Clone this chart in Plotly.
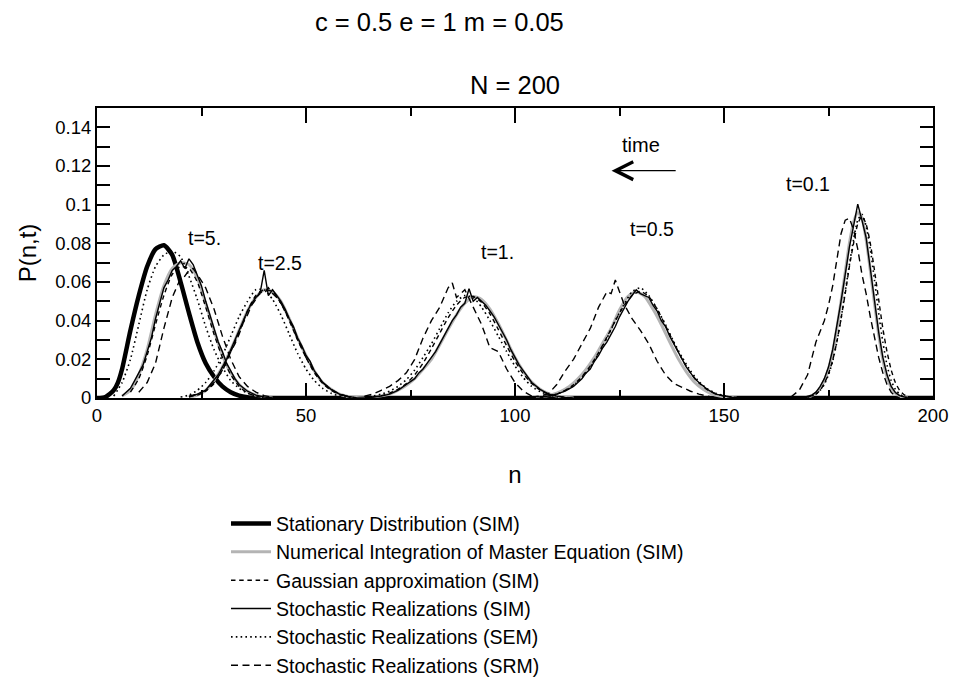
import plotly.graph_objects as go

# ---------------- data ----------------
# Stationary distribution (SIM)
stat_n = [0, 2, 4, 5, 6, 8, 10, 12, 14, 16, 18, 20, 22, 24, 26, 28, 30, 32, 34, 36, 38, 40, 200]
stat_p = [0, 0.0005, 0.004, 0.008, 0.015, 0.035, 0.053, 0.068, 0.077, 0.079, 0.074, 0.060, 0.044,
          0.029, 0.018, 0.011, 0.006, 0.003, 0.0012, 0.0004, 0.0001, 0, 0]

# Numerical integration of master equation (SIM)
num_n_t5 = [6, 8, 10, 12, 14, 16, 18, 20, 22, 24, 26, 28, 30, 32, 34, 36, 38, 40, 42]
num_p_t5 = [0.001, 0.004, 0.012, 0.025, 0.043, 0.058, 0.067, 0.070, 0.069, 0.062, 0.049, 0.035,
            0.022, 0.013, 0.007, 0.0035, 0.0015, 0.0005, 0]
num_n_t25 = [22, 24, 26, 28, 30, 32, 34, 36, 38, 40, 42, 44, 46, 48, 50, 52, 54, 56, 58, 60, 62, 64]
num_p_t25 = [0.0005, 0.0015, 0.004, 0.009, 0.016, 0.025, 0.035, 0.045, 0.052, 0.056, 0.055, 0.050,
             0.041, 0.031, 0.022, 0.014, 0.008, 0.0045, 0.002, 0.0008, 0.0002, 0]
num_n_t1 = [66, 68, 70, 72, 74, 76, 78, 80, 82, 84, 86, 88, 90, 92, 94, 96, 98, 100, 102, 104, 106,
            108, 110, 112, 114]
num_p_t1 = [0.0006, 0.0011, 0.002, 0.004, 0.0066, 0.010, 0.0148, 0.020, 0.0275, 0.0355, 0.043,
            0.049, 0.0525, 0.051, 0.046, 0.0385, 0.0298, 0.021, 0.0138, 0.0082, 0.0045, 0.0022,
            0.001, 0.0004, 0]
num_n_t05 = [105, 107, 109, 111, 113, 115, 117, 119, 121, 123, 125, 127, 129, 131, 133, 135, 137,
             139, 141, 143, 145, 147, 149, 151, 153]
num_p_t05 = [0.0004, 0.0009, 0.0018, 0.0035, 0.006, 0.0098, 0.0148, 0.021, 0.0285, 0.036, 0.0455,
             0.0525, 0.055, 0.0525, 0.046, 0.038, 0.029, 0.0205, 0.0135, 0.008, 0.0045, 0.0022,
             0.001, 0.0004, 0]
num_n_t01 = [170, 171, 172, 173, 174, 175, 176, 177, 178, 179, 180, 181, 182, 183, 184, 185, 186,
             187, 188, 189, 190, 191, 192, 193, 194]
num_p_t01 = [0.0006, 0.0012, 0.0025, 0.005, 0.009, 0.015, 0.024, 0.036, 0.050, 0.065, 0.080, 0.091,
             0.096, 0.093, 0.082, 0.066, 0.049, 0.033, 0.020, 0.011, 0.0055, 0.0025, 0.001, 0.0003, 0]

# Gaussian approximation (SIM)
gau_n_t5 = [8, 10, 12, 14, 16, 18, 20, 22, 24, 26, 28, 30, 32, 34, 36, 38, 40]
gau_p_t5 = [0.003, 0.010, 0.022, 0.038, 0.053, 0.064, 0.068, 0.067, 0.060, 0.047, 0.033, 0.021,
            0.012, 0.006, 0.0025, 0.001, 0]
gau_n_t25 = [22, 24, 26, 28, 30, 32, 34, 36, 38, 40, 42, 44, 46, 48, 50, 52, 54, 56, 58, 60, 62]
gau_p_t25 = [0.0007, 0.0015, 0.0035, 0.0075, 0.0145, 0.024, 0.034, 0.045, 0.053, 0.056, 0.055,
             0.049, 0.040, 0.030, 0.021, 0.013, 0.0075, 0.004, 0.0018, 0.0008, 0]
gau_n_t1 = [66, 68, 70, 72, 74, 76, 78, 80, 82, 84, 86, 88, 90, 92, 94, 96, 98, 100, 102, 104, 106,
            108, 110, 112, 114]
gau_p_t1 = [0.0005, 0.0012, 0.0025, 0.0045, 0.0075, 0.012, 0.018, 0.0255, 0.0335, 0.0415, 0.048,
            0.052, 0.0525, 0.0495, 0.0435, 0.0355, 0.027, 0.019, 0.0125, 0.0075, 0.0042, 0.0021,
            0.001, 0.0004, 0]
gau_n_t05 = [106, 108, 110, 112, 114, 116, 118, 120, 122, 124, 126, 128, 130, 132, 134, 136, 138,
             140, 142, 144, 146, 148, 150, 152, 154]
gau_p_t05 = [0.0005, 0.001, 0.002, 0.004, 0.0068, 0.011, 0.0165, 0.0235, 0.0315, 0.040, 0.0475,
             0.053, 0.0552, 0.0525, 0.046, 0.0375, 0.0285, 0.020, 0.013, 0.0078, 0.0043, 0.0022,
             0.001, 0.0004, 0]
gau_n_t01 = [170, 172, 173, 174, 175, 176, 177, 178, 179, 180, 181, 182, 183, 184, 185, 186, 187,
             188, 189, 190, 191, 192, 193, 194, 195]
gau_p_t01 = [0.0005, 0.002, 0.004, 0.0075, 0.0125, 0.0195, 0.029, 0.041, 0.054, 0.068, 0.080, 0.090,
             0.094, 0.090, 0.080, 0.066, 0.051, 0.036, 0.024, 0.0145, 0.008, 0.004, 0.0018, 0.0007, 0]

# Stochastic realizations (SIM)
sim_n_t5 = [6, 8, 10, 11, 12, 13, 14, 15, 16, 17, 18, 19, 20, 21, 22, 23, 24, 25, 26, 27, 28, 29,
            30, 31, 32, 33, 34, 36, 38, 40, 42]
sim_p_t5 = [0.001, 0.005, 0.013, 0.017, 0.024, 0.031, 0.041, 0.049, 0.057, 0.061, 0.066, 0.068,
            0.071, 0.067, 0.072, 0.069, 0.063, 0.058, 0.050, 0.043, 0.036, 0.029, 0.024, 0.018,
            0.014, 0.010, 0.007, 0.0035, 0.0015, 0.0005, 0]
sim_n_t25 = [22, 24, 26, 28, 29, 30, 31, 32, 33, 34, 35, 36, 37, 38, 39, 40, 41, 42, 43, 44, 45,
             46, 47, 48, 49, 50, 51, 52, 53, 54, 56, 58, 60, 62, 64]
sim_p_t25 = [0.0005, 0.002, 0.004, 0.009, 0.012, 0.016, 0.020, 0.025, 0.030, 0.035, 0.040, 0.045,
             0.049, 0.052, 0.054, 0.066, 0.053, 0.056, 0.053, 0.050, 0.046, 0.041, 0.037, 0.031,
             0.027, 0.022, 0.019, 0.014, 0.011, 0.008, 0.0045, 0.002, 0.0008, 0.0002, 0]
sim_n_t1 = [66, 68, 70, 72, 74, 76, 77, 78, 79, 80, 81, 82, 83, 84, 85, 86, 87, 88, 89, 90, 91, 92,
            93, 94, 95, 96, 97, 98, 99, 100, 101, 102, 103, 104, 106, 108, 110, 112, 114]
sim_p_t1 = [0.0005, 0.001, 0.002, 0.004, 0.007, 0.010, 0.013, 0.015, 0.018, 0.021, 0.024, 0.028,
            0.032, 0.036, 0.040, 0.043, 0.047, 0.049, 0.0565, 0.050, 0.052, 0.050, 0.048, 0.045,
            0.042, 0.038, 0.034, 0.030, 0.025, 0.021, 0.017, 0.014, 0.011, 0.008, 0.0045, 0.002,
            0.001, 0.0003, 0]
sim_n_t05 = [106, 108, 110, 112, 114, 115, 116, 117, 118, 119, 120, 121, 122, 123, 124, 125, 126,
             127, 128, 129, 130, 131, 132, 133, 134, 135, 136, 137, 138, 139, 140, 141, 142, 143,
             144, 146, 148, 150, 152, 154]
sim_p_t05 = [0.0005, 0.001, 0.002, 0.0035, 0.006, 0.008, 0.010, 0.013, 0.015, 0.019, 0.022, 0.026,
             0.029, 0.033, 0.037, 0.042, 0.046, 0.050, 0.053, 0.056, 0.054, 0.053, 0.052, 0.048,
             0.045, 0.040, 0.037, 0.032, 0.028, 0.024, 0.020, 0.016, 0.013, 0.010, 0.008, 0.0045,
             0.002, 0.001, 0.0003, 0]
sim_n_t01 = [169, 170, 171, 172, 173, 174, 175, 176, 177, 178, 179, 180, 181, 182, 183, 184, 185,
             186, 187, 188, 189, 190, 191, 192, 193, 194]
sim_p_t01 = [0.0003, 0.0008, 0.0015, 0.003, 0.006, 0.010, 0.016, 0.025, 0.037, 0.050, 0.064, 0.078,
             0.089, 0.1003, 0.092, 0.083, 0.067, 0.050, 0.034, 0.021, 0.012, 0.006, 0.0028, 0.0012,
             0.0004, 0]

# Stochastic realizations (SEM)
sem_n_t5 = [4, 6, 8, 10, 12, 14, 16, 18, 20, 22, 24, 26, 28, 30, 32, 34, 36, 38, 40, 42]
sem_p_t5 = [0.001, 0.008, 0.020, 0.038, 0.056, 0.068, 0.074, 0.076, 0.073, 0.063, 0.051, 0.037,
            0.025, 0.016, 0.009, 0.005, 0.0025, 0.001, 0.0003, 0]
sem_n_t25 = [20, 22, 24, 26, 28, 30, 32, 34, 36, 38, 40, 42, 44, 46, 48, 50, 52, 54, 56, 58, 60, 62]
sem_p_t25 = [0.0005, 0.0015, 0.004, 0.008, 0.014, 0.022, 0.032, 0.042, 0.050, 0.056, 0.056, 0.051,
             0.043, 0.033, 0.023, 0.015, 0.009, 0.005, 0.0025, 0.001, 0.0003, 0]
sem_n_t1 = [64, 66, 68, 70, 72, 74, 76, 78, 80, 82, 84, 86, 88, 90, 92, 94, 96, 98, 100, 102, 104,
            106, 108, 110, 112]
sem_p_t1 = [0.0005, 0.001, 0.002, 0.0035, 0.006, 0.0095, 0.0145, 0.021, 0.028, 0.036, 0.044, 0.050,
            0.053, 0.052, 0.047, 0.040, 0.032, 0.024, 0.0165, 0.0105, 0.006, 0.0033, 0.0016, 0.0007, 0]
sem_n_t05 = [106, 108, 110, 112, 114, 116, 118, 120, 122, 124, 126, 128, 130, 132, 134, 136, 138,
             140, 142, 144, 146, 148, 150, 152, 154]
sem_p_t05 = [0.0005, 0.001, 0.002, 0.0038, 0.0065, 0.0105, 0.016, 0.023, 0.031, 0.040, 0.048,
             0.055, 0.057, 0.053, 0.046, 0.038, 0.029, 0.021, 0.014, 0.0085, 0.0048, 0.0025,
             0.0012, 0.0004, 0]
sem_n_t01 = [170, 171, 172, 173, 174, 175, 176, 177, 178, 179, 180, 181, 182, 183, 184, 185, 186,
             187, 188, 189, 190, 191, 192, 193, 194]
sem_p_t01 = [0.0005, 0.001, 0.002, 0.004, 0.007, 0.012, 0.019, 0.029, 0.041, 0.055, 0.069, 0.082,
             0.092, 0.095, 0.089, 0.077, 0.061, 0.044, 0.029, 0.017, 0.009, 0.0045, 0.002, 0.0007, 0]

# Stochastic realizations (SRM)
srm_n_t5 = [10, 12, 14, 15, 16, 18, 20, 21, 22, 23, 24, 26, 28, 30, 32, 34, 36, 38, 40, 42, 44]
srm_p_t5 = [0.003, 0.008, 0.018, 0.027, 0.036, 0.052, 0.062, 0.063, 0.066, 0.067, 0.064, 0.057,
            0.046, 0.032, 0.020, 0.011, 0.006, 0.003, 0.0012, 0.0004, 0]
srm_n_t25 = [22, 24, 26, 28, 30, 31, 32, 33, 34, 35, 36, 37, 38, 39, 40, 41, 42, 43, 44, 45, 46, 47,
             48, 49, 50, 52, 54, 56, 58, 60, 62]
srm_p_t25 = [0.001, 0.002, 0.004, 0.008, 0.014, 0.019, 0.024, 0.028, 0.033, 0.039, 0.043, 0.048,
             0.051, 0.055, 0.054, 0.057, 0.054, 0.052, 0.049, 0.045, 0.041, 0.036, 0.030, 0.026,
             0.021, 0.014, 0.008, 0.0045, 0.002, 0.0008, 0]
srm_n_t1 = [64, 66, 68, 70, 72, 74, 76, 78, 80, 82, 84, 85, 86, 88, 90, 92, 94, 96, 98, 100, 102,
            104, 106, 108]
srm_p_t1 = [0.001, 0.002, 0.004, 0.006, 0.009, 0.013, 0.020, 0.031, 0.040, 0.047, 0.057, 0.0595,
            0.052, 0.056, 0.047, 0.038, 0.026, 0.024, 0.015, 0.008, 0.0035, 0.001, 0.0005, 0]
srm_n_t05 = [104, 106, 108, 110, 112, 114, 116, 118, 120, 122, 123, 124, 125, 126, 128, 130, 132,
             134, 136, 138, 140, 142, 144, 146, 148]
srm_p_t05 = [0.0004, 0.001, 0.0022, 0.007, 0.014, 0.020, 0.028, 0.036, 0.047, 0.055, 0.054, 0.061,
             0.055, 0.049, 0.041, 0.035, 0.028, 0.019, 0.012, 0.0075, 0.0055, 0.0035, 0.002,
             0.0008, 0]
srm_n_t01 = [166, 168, 170, 171, 172, 174, 175, 176, 177, 178, 179, 180, 181, 182, 183, 184, 185,
             186, 187, 188, 189, 190, 191, 192]
srm_p_t01 = [0.0005, 0.004, 0.012, 0.020, 0.029, 0.040, 0.048, 0.058, 0.071, 0.085, 0.092, 0.093,
             0.087, 0.077, 0.064, 0.054, 0.042, 0.031, 0.021, 0.013, 0.007, 0.003, 0.001, 0]

# axis ticks
x_tick_vals = [0, 50, 100, 150, 200]
x_minor_vals = [25, 75, 125, 175]
y_tick_vals = [0, 0.01, 0.02, 0.03, 0.04, 0.05, 0.06, 0.07, 0.08, 0.09, 0.10, 0.11, 0.12, 0.13, 0.14]
y_tick_text = ["0", "", "0.02", "", "0.04", "", "0.06", "", "0.08", "", "0.1", "", "0.12", "", "0.14"]

# curve labels
curve_labels = ["t=5.", "t=2.5", "t=1.", "t=0.5", "t=0.1"]
curve_label_n = [25.8, 43.8, 95.7, 132.7, 170.1]
curve_label_p = [0.0826, 0.070, 0.0753, 0.0873, 0.1106]

series_names = ["Stationary Distribution (SIM)",
                "Numerical Integration of Master Equation (SIM)",
                "Gaussian approximation (SIM)",
                "Stochastic Realizations (SIM)",
                "Stochastic Realizations (SEM)",
                "Stochastic Realizations (SRM)"]


def joined(pairs):
    xs, ys = [], []
    for nx, py in pairs:
        if xs:
            xs.append(None)
            ys.append(None)
        xs.extend(nx)
        ys.extend(py)
    return xs, ys


FONT = "Liberation Sans, Arial, Helvetica, sans-serif"

num_x, num_y = joined([(num_n_t5, num_p_t5), (num_n_t25, num_p_t25), (num_n_t1, num_p_t1),
                       (num_n_t05, num_p_t05), (num_n_t01, num_p_t01)])
gau_x, gau_y = joined([(gau_n_t5, gau_p_t5), (gau_n_t25, gau_p_t25), (gau_n_t1, gau_p_t1),
                       (gau_n_t05, gau_p_t05), (gau_n_t01, gau_p_t01)])
sim_x, sim_y = joined([(sim_n_t5, sim_p_t5), (sim_n_t25, sim_p_t25), (sim_n_t1, sim_p_t1),
                       (sim_n_t05, sim_p_t05), (sim_n_t01, sim_p_t01)])
sem_x, sem_y = joined([(sem_n_t5, sem_p_t5), (sem_n_t25, sem_p_t25), (sem_n_t1, sem_p_t1),
                       (sem_n_t05, sem_p_t05), (sem_n_t01, sem_p_t01)])
srm_x, srm_y = joined([(srm_n_t5, srm_p_t5), (srm_n_t25, srm_p_t25), (srm_n_t1, srm_p_t1),
                       (srm_n_t05, srm_p_t05), (srm_n_t01, srm_p_t01)])

fig = go.Figure()
fig.add_trace(go.Scatter(x=stat_n, y=stat_p, mode="lines", name=series_names[0],
                         line=dict(color="black", width=4.5, shape="spline", smoothing=0.6)))
fig.add_trace(go.Scatter(x=num_x, y=num_y, mode="lines", name=series_names[1],
                         line=dict(color="#b4b4b4", width=3, shape="spline", smoothing=0.6)))
fig.add_trace(go.Scatter(x=gau_x, y=gau_y, mode="lines", name=series_names[2],
                         line=dict(color="black", width=1.4, dash="4.5px,3.7px", shape="spline",
                                   smoothing=0.6)))
fig.add_trace(go.Scatter(x=sim_x, y=sim_y, mode="lines", name=series_names[3],
                         line=dict(color="black", width=1.4)))
fig.add_trace(go.Scatter(x=sem_x, y=sem_y, mode="lines", name=series_names[4],
                         line=dict(color="black", width=1.6, dash="1.6px,3.2px", shape="spline",
                                   smoothing=0.6)))
fig.add_trace(go.Scatter(x=srm_x, y=srm_y, mode="lines", name=series_names[5],
                         line=dict(color="black", width=1.4, dash="7px,4.5px")))

annotations = []
for txt, xn, yp in zip(curve_labels, curve_label_n, curve_label_p):
    annotations.append(dict(x=xn, y=yp, xref="x", yref="y", text=txt, showarrow=False,
                            xanchor="center", yanchor="middle",
                            font=dict(size=19.5, color="black", family=FONT)))
# time arrow
annotations.append(dict(x=130.1, y=0.1309, xref="x", yref="y", text="time", showarrow=False,
                        xanchor="center", yanchor="middle",
                        font=dict(size=20, color="black", family=FONT)))
annotations.append(dict(x=123.1, y=0.1176, ax=138.8, ay=0.1176, xref="x", yref="y", axref="x",
                        ayref="y", text="", showarrow=True, arrowhead=5, arrowsize=2.5,
                        arrowwidth=1.4, arrowcolor="black"))
# titles
annotations.append(dict(x=0.41, y=1.297, xref="paper", yref="paper", text="c = 0.5 e = 1 m = 0.05",
                        showarrow=False, xanchor="center", yanchor="middle",
                        font=dict(size=25.5, color="black", family=FONT)))
annotations.append(dict(x=0.5, y=1.079, xref="paper", yref="paper", text="N = 200",
                        showarrow=False, xanchor="center", yanchor="middle",
                        font=dict(size=25.5, color="black", family=FONT)))

fig.update_layout(
    width=954, height=680,
    margin=dict(l=97, r=21, t=108, b=282, autoexpand=False),
    paper_bgcolor="white", plot_bgcolor="white",
    font=dict(family=FONT, size=18, color="black"),
    showlegend=True,
    legend=dict(x=0.1543, y=-0.3666, xanchor="left", yanchor="top", bgcolor="rgba(0,0,0,0)",
                font=dict(size=19.5, family=FONT, color="black"), itemwidth=40,
                traceorder="normal"),
    annotations=annotations,
    xaxis=dict(range=[0, 200], tickvals=x_tick_vals, ticks="inside", ticklen=15, tickwidth=1.5,
               tickcolor="black", showline=True, linecolor="black", linewidth=2, mirror="ticks",
               showgrid=False, zeroline=False, tickfont=dict(size=18.5), automargin=False,
               minor=dict(tickvals=x_minor_vals, ticks="inside", ticklen=8, tickwidth=1.5,
                          tickcolor="black", showgrid=False),
               title=dict(text="n", font=dict(size=24), standoff=41)),
    yaxis=dict(range=[0, 0.15], tickvals=y_tick_vals, ticktext=y_tick_text, ticks="inside",
               ticklen=13, tickwidth=1.5, tickcolor="black", showline=True, linecolor="black",
               linewidth=2, mirror="ticks", showgrid=False, zeroline=False,
               tickfont=dict(size=18.5), automargin=False,
               title=dict(text="P(n,t)", font=dict(size=24), standoff=12)),
)

# the page's default 8px body margin would shift the 954x680 figure out of the window
fig.write_html("out.html", config={"displayModeBar": False},
               post_script="document.body.style.margin='0px';")
